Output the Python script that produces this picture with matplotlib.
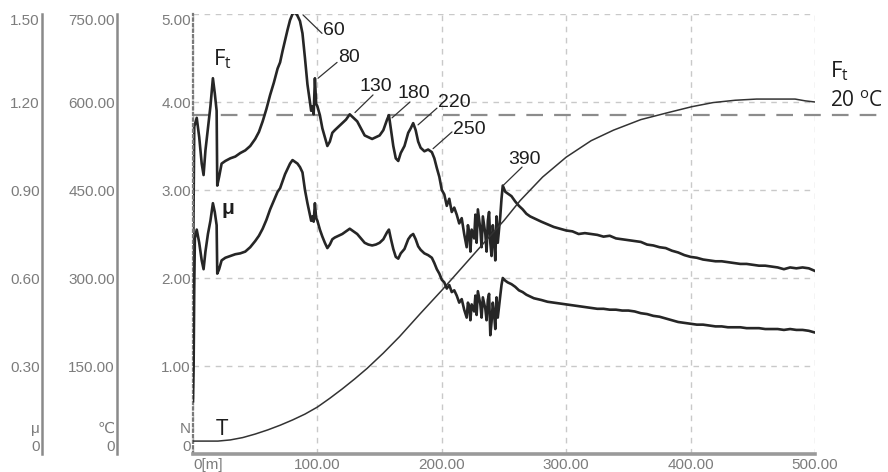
import matplotlib
matplotlib.use('Agg')
import matplotlib.pyplot as plt

# ---------------- data ----------------
# Friction force F_t [N] vs sliding distance [m]
ft_x = [
    0, 1, 3, 5, 7, 8.5, 10, 12, 14, 16,
    17.5, 19, 19.5, 21, 23, 26, 30, 34, 38, 42,
    46, 50, 53, 56, 59, 62, 65, 68, 70, 72,
    74, 76, 78, 80, 82, 84, 86, 88, 90, 92,
    94, 95, 96, 97, 98, 99, 100, 102, 104, 106,
    108, 110, 112, 114, 117, 120, 123, 126, 129, 132,
    135, 138, 141, 144, 147, 150, 153, 156, 157.5, 159,
    161, 163, 165, 167, 170, 173, 175, 177, 179, 181,
    183, 186, 189, 192, 194, 196, 198, 200, 202, 204,
    206, 208, 210, 212, 214, 216, 218, 220, 221, 222,
    223, 224, 226, 227, 228, 229, 231, 232, 233, 235,
    236, 237, 238, 239, 240, 241, 242, 243, 244, 245,
    246, 247, 248, 249, 251, 253, 256, 259, 262, 265,
    268, 271, 274, 277, 280, 285, 290, 295, 300, 305,
    310, 315, 320, 325, 330, 335, 340, 345, 350, 355,
    360, 365, 370, 375, 380, 385, 390, 395, 400, 405,
    410, 415, 420, 425, 430, 435, 440, 445, 450, 455,
    460, 465, 470, 475, 480, 485, 490, 495, 500]
ft_y = [
    2.0, 3.72, 3.82, 3.6, 3.3, 3.17, 3.45, 3.7, 3.95, 4.27,
    4.1, 3.9, 3.05, 3.15, 3.3, 3.33, 3.36, 3.38, 3.42, 3.45,
    3.5, 3.58, 3.66, 3.78, 3.92, 4.08, 4.22, 4.38, 4.45, 4.58,
    4.7, 4.82, 4.93, 5.0, 5.02, 4.98, 4.92, 4.78, 4.5, 4.2,
    4.0, 3.9, 3.95, 3.86, 4.27, 3.98, 3.95, 3.85, 3.7, 3.6,
    3.5, 3.55, 3.65, 3.68, 3.72, 3.76, 3.8, 3.86, 3.82, 3.78,
    3.7, 3.62, 3.6, 3.58, 3.6, 3.62, 3.68, 3.8, 3.85, 3.7,
    3.5, 3.36, 3.33, 3.42, 3.5, 3.65, 3.7, 3.76, 3.68, 3.55,
    3.48, 3.44, 3.46, 3.43, 3.36, 3.25, 3.15, 3.0, 2.95, 2.82,
    2.9, 2.75, 2.8, 2.72, 2.62, 2.68, 2.5, 2.35, 2.6, 2.52,
    2.3, 2.55, 2.45, 2.72, 2.4, 2.78, 2.55, 2.35, 2.7, 2.5,
    2.3, 2.65, 2.75, 2.4, 2.25, 2.6, 2.45, 2.2, 2.7, 2.4,
    2.55, 2.7, 2.9, 3.05, 2.98, 2.96, 2.93, 2.87, 2.82, 2.78,
    2.73, 2.7, 2.68, 2.66, 2.64, 2.61, 2.58, 2.56, 2.54, 2.53,
    2.5, 2.51, 2.5, 2.49, 2.47, 2.48, 2.45, 2.44, 2.43, 2.42,
    2.41, 2.38, 2.37, 2.35, 2.34, 2.31, 2.29, 2.26, 2.24, 2.23,
    2.21, 2.2, 2.19, 2.19, 2.18, 2.17, 2.16, 2.16, 2.15, 2.14,
    2.14, 2.13, 2.12, 2.1, 2.12, 2.11, 2.12, 2.11, 2.08]

# Friction coefficient mu [-]
mu_x = [
    0, 0.5, 1, 1.5, 3, 5, 7, 8.5, 10, 12,
    14, 16, 17.5, 19, 19.5, 21, 23, 26, 30, 34,
    38, 42, 46, 50, 53, 56, 59, 62, 65, 68,
    70, 72, 74, 76, 78, 80, 82, 84, 86, 88,
    90, 92, 94, 95, 96, 97, 98, 99, 100, 102,
    104, 106, 108, 110, 112, 114, 117, 120, 123, 126,
    129, 132, 135, 138, 141, 144, 147, 150, 153, 156,
    157.5, 159, 161, 163, 165, 167, 170, 173, 175, 177,
    179, 181, 183, 186, 189, 192, 194, 196, 198, 200,
    202, 204, 206, 208, 210, 212, 214, 216, 218, 220,
    221, 222, 223, 224, 226, 227, 228, 229, 231, 232,
    233, 235, 236, 237, 238, 239, 240, 241, 242, 243,
    244, 245, 246, 247, 248, 249, 251, 253, 256, 259,
    262, 265, 268, 271, 274, 277, 280, 285, 290, 295,
    300, 305, 310, 315, 320, 325, 330, 335, 340, 345,
    350, 355, 360, 365, 370, 375, 380, 385, 390, 395,
    400, 405, 410, 415, 420, 425, 430, 435, 440, 445,
    450, 455, 460, 465, 470, 475, 480, 485, 490, 495,
    500]
mu_y = [
    0.18, 0.30, 0.57, 0.735, 0.765, 0.72, 0.66, 0.63, 0.69, 0.75,
    0.795, 0.855, 0.825, 0.78, 0.615, 0.63, 0.66, 0.669, 0.675, 0.681,
    0.684, 0.69, 0.705, 0.726, 0.744, 0.768, 0.798, 0.834, 0.864, 0.894,
    0.906, 0.93, 0.954, 0.972, 0.99, 1.002, 0.996, 0.99, 0.978, 0.96,
    0.90, 0.855, 0.816, 0.795, 0.81, 0.792, 0.855, 0.804, 0.795, 0.765,
    0.741, 0.72, 0.702, 0.714, 0.732, 0.738, 0.744, 0.75, 0.759, 0.768,
    0.759, 0.75, 0.735, 0.72, 0.714, 0.711, 0.714, 0.72, 0.732, 0.756,
    0.765, 0.735, 0.699, 0.672, 0.666, 0.684, 0.699, 0.732, 0.744, 0.75,
    0.732, 0.708, 0.696, 0.684, 0.678, 0.669, 0.651, 0.63, 0.615, 0.594,
    0.585, 0.564, 0.576, 0.552, 0.558, 0.54, 0.516, 0.528, 0.492, 0.465,
    0.516, 0.504, 0.456, 0.51, 0.486, 0.54, 0.474, 0.555, 0.51, 0.465,
    0.534, 0.495, 0.456, 0.525, 0.546, 0.405, 0.45, 0.516, 0.48, 0.426,
    0.534, 0.465, 0.504, 0.54, 0.576, 0.60, 0.591, 0.585, 0.579, 0.57,
    0.558, 0.552, 0.543, 0.537, 0.531, 0.528, 0.525, 0.519, 0.516, 0.513,
    0.51, 0.507, 0.504, 0.501, 0.498, 0.495, 0.495, 0.492, 0.492, 0.489,
    0.489, 0.486, 0.48, 0.477, 0.471, 0.468, 0.462, 0.456, 0.45, 0.447,
    0.444, 0.441, 0.441, 0.438, 0.435, 0.435, 0.432, 0.432, 0.432, 0.429,
    0.429, 0.429, 0.426, 0.426, 0.426, 0.423, 0.426, 0.423, 0.423, 0.42,
    0.414]

# Temperature T [degC]
temp_x = [0, 20, 30, 40, 50, 60, 70, 80, 90, 100, 110, 120, 130, 140, 153,
          166, 183, 200, 218, 236, 250, 263, 281, 300, 320, 338, 360, 382,
          401, 418, 436, 453, 470, 484, 492, 500]
temp_y = [22, 22, 24, 28, 34, 41, 49, 58, 68, 80, 95, 111, 128, 146, 172,
          200, 240, 279, 322, 365, 398, 432, 472, 506, 534, 552, 570, 582,
          592, 599, 603, 605, 605, 605, 602, 600]

ft_20c = 3.85  # F_t at 20 degC (reference level)

# callouts on the F_t curve
callout_labels = ['60', '80', '130', '180', '220', '250', '390']

# tick labels
x_ticks = [0, 100, 200, 300, 400, 500]
x_tick_labels = ['0[m]', '100.00', '200.00', '300.00', '400.00', '500.00']
n_ticks = [0, 1, 2, 3, 4, 5]
n_tick_labels = ['N\n0', '1.00', '2.00', '3.00', '4.00', '5.00']
c_ticks = [0, 150, 300, 450, 600, 750]
c_tick_labels = ['\u2103\n0', '150.00', '300.00', '450.00', '600.00', '750.00']
mu_ticks = [0, 0.3, 0.6, 0.9, 1.2, 1.5]
mu_tick_labels = ['\u03bc\n0', '0.30', '0.60', '0.90', '1.20', '1.50']

# ---------------- drawing ----------------
plt.rcParams['font.family'] = ['Liberation Sans', 'DejaVu Sans']

W, H = 888, 472
fig = plt.figure(figsize=(W / 100, H / 100), dpi=100)
x0, x1, ytop, ybot = 193, 815, 14, 454
ax = fig.add_axes([x0 / W, 1 - ybot / H, (x1 - x0) / W, (ybot - ytop) / H])
ax.set_xlim(0, 500)
ax.set_ylim(0, 5)

tick_col = '#7c7c7c'
line_col = '#262626'

ax.set_xticks(x_ticks)
ax.set_xticklabels(x_tick_labels)
ax.set_yticks(n_ticks)
ax.set_yticklabels(n_tick_labels)
ax.tick_params(axis='both', length=0, labelsize=11, labelcolor=tick_col)
ax.tick_params(axis='x', pad=3)
ax.tick_params(axis='y', pad=1.5)
ax.get_xticklabels()[0].set_ha('left')

ax.grid(True, color='#c9c9c9', lw=1.0, ls=(0, (4, 4)))
ax.set_axisbelow(True)
for s in ['top', 'right']:
    ax.spines[s].set_visible(False)
ax.spines['bottom'].set_color('#9a9a9a')
ax.spines['bottom'].set_linewidth(2.6)
ax.spines['left'].set_color('#7a7a7a')
ax.spines['left'].set_linewidth(1.6)
ax.spines['left'].set_linestyle((0, (1, 1.5)))


def side_axis(pos, ylim, ticks, labels):
    a = ax.twinx()
    a.set_ylim(*ylim)
    for s in ['top', 'bottom', 'right']:
        a.spines[s].set_visible(False)
    a.spines['left'].set_visible(True)
    a.spines['left'].set_position(('axes', pos))
    a.spines['left'].set_color('#8a8a8a')
    a.spines['left'].set_linewidth(1.8)
    a.yaxis.set_ticks_position('left')
    a.yaxis.set_label_position('left')
    a.set_yticks(ticks)
    a.set_yticklabels(labels)
    a.tick_params(axis='y', length=0, pad=1.5, labelsize=11,
                  labelcolor=tick_col)
    return a


ax_c = side_axis((117 - x0) / (x1 - x0), (0, 750), c_ticks, c_tick_labels)
ax_mu = side_axis((42 - x0) / (x1 - x0), (0, 1.5), mu_ticks, mu_tick_labels)

for a in (ax, ax_c, ax_mu):
    labs = a.get_yticklabels()
    labs[0].set_va('bottom')
    labs[0].set_multialignment('right')
    labs[0].set_linespacing(1.35)
    labs[-1].set_va('top')

# curves
ax.plot(ft_x, ft_y, color=line_col, lw=1.9, solid_joinstyle='round')
ax_mu.plot(mu_x, mu_y, color=line_col, lw=1.9, solid_joinstyle='round')
ax_c.plot(temp_x, temp_y, color='#333333', lw=1.1)

# reference level of F_t at 20 degC
ax.axhline(ft_20c, xmin=0, xmax=(885 - x0) / (x1 - x0), color='#8c8c8c',
           lw=1.6, dashes=(7.5, 5), clip_on=False, zorder=1.5)

# callout leader lines: (curve point) -> (text corner), text anchor
leader_from = [(88.4, 4.99), (100.5, 4.27), (130.2, 3.88), (160, 3.82),
               (180.9, 3.74), (193, 3.47), (249.2, 3.05)]
leader_to = [(103.7, 4.78), (115.8, 4.45), (144.7, 4.08), (174.4, 4.0),
             (196.1, 3.93), (208.2, 3.66), (264.5, 3.26)]
text_at = [(104.5, 4.76), (116.3, 4.45), (134.2, 4.13), (164, 4.04),
           (197, 3.94), (209, 3.64), (253.2, 3.30)]
for lab, p0, p1, tp in zip(callout_labels, leader_from, leader_to, text_at):
    ax.annotate('', xy=p0, xytext=p1,
                arrowprops=dict(arrowstyle='-', color='#333333', lw=0.9,
                                shrinkA=0, shrinkB=0))
    ax.text(tp[0], tp[1], lab, fontsize=14, color='#1e1e1e', va='baseline',
            ha='left')

# curve labels
ax.text(16, 4.42, r'$\mathregular{F_t}$', fontsize=16, color='#1e1e1e',
        family=['Open Sans', 'DejaVu Sans'])
ax.text(23, 2.73, '\u03bc', fontsize=15, fontweight='bold', color='#1e1e1e')
ax.text(18, 0.22, 'T', fontsize=16, color='#1e1e1e',
        family=['Open Sans', 'DejaVu Sans'])
ax.text(512, 4.28, r'$\mathregular{F_t}$', fontsize=16, color='#1e1e1e',
        family=['Open Sans', 'DejaVu Sans'], clip_on=False)
ax.text(512, 3.94, r'20 $\mathregular{^o}$C', fontsize=15, color='#1e1e1e',
        family=['Open Sans', 'DejaVu Sans'], clip_on=False)

fig.savefig('out.png', dpi=100)
